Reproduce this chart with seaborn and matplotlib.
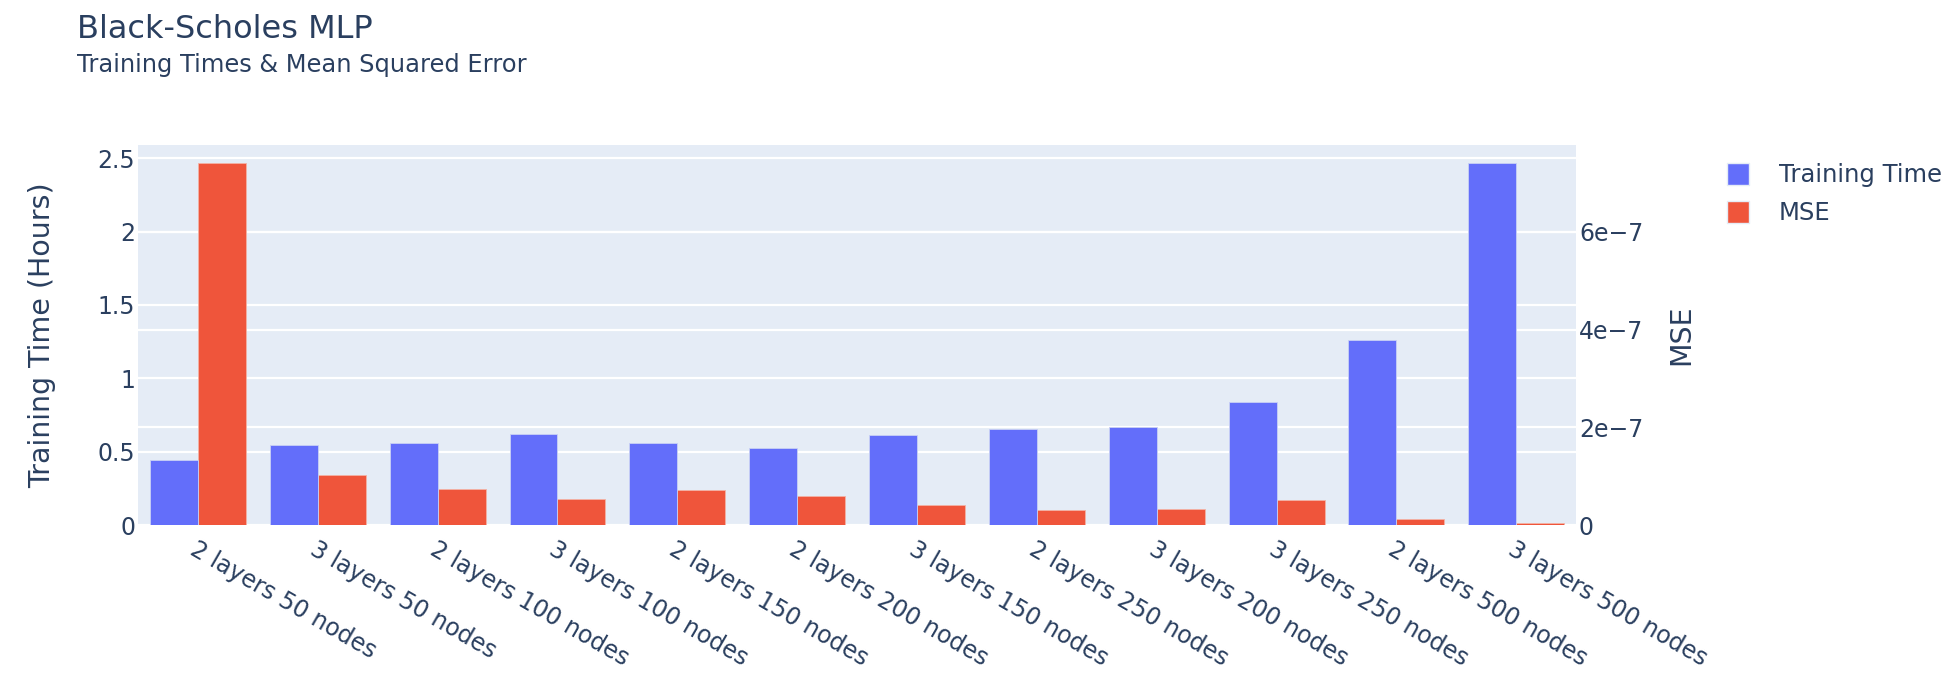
import matplotlib
matplotlib.use("Agg")
import matplotlib.pyplot as plt
from matplotlib.lines import Line2D
from matplotlib.ticker import FuncFormatter, MultipleLocator
import pandas as pd
import seaborn as sns

# values
configs = [
    "2 layers 50 nodes", "3 layers 50 nodes", "2 layers 100 nodes",
    "3 layers 100 nodes", "2 layers 150 nodes", "2 layers 200 nodes",
    "3 layers 150 nodes", "2 layers 250 nodes", "3 layers 200 nodes",
    "3 layers 250 nodes", "2 layers 500 nodes", "3 layers 500 nodes",
]
train_hours = [0.441, 0.545, 0.559, 0.620, 0.559, 0.527,
               0.614, 0.657, 0.666, 0.838, 1.263, 2.466]
mse = [7.41e-7, 1.03e-7, 0.73e-7, 0.54e-7, 0.71e-7, 0.59e-7,
       0.40e-7, 0.31e-7, 0.32e-7, 0.52e-7, 0.12e-7, 0.045e-7]
series = ["Training Time", "MSE"]
colors = {"Training Time": "#636EFA", "MSE": "#EF553B"}

BG = "#E5ECF6"
TXT = "#2a3f5f"

df_time = pd.DataFrame({"config": configs, "series": "Training Time", "value": train_hours})
df_mse = pd.DataFrame({"config": configs, "series": "MSE", "value": mse})

sns.set_theme(style="white")
plt.rcParams["font.family"] = ["DejaVu Sans"]

fig = plt.figure(figsize=(19.58, 6.83), dpi=100)
ax = fig.add_axes([0.0705, 0.2313, 0.7345, 0.5564])
ax2 = ax.twinx()

# MSE axis sits behind so both sets of gridlines stay under the bars
ax.set_zorder(2)
ax2.set_zorder(1)
ax.patch.set_visible(False)
ax2.patch.set_visible(True)
ax2.set_facecolor(BG)

sns.barplot(data=df_time, x="config", y="value", hue="series", hue_order=series,
            order=configs, palette=colors, dodge=True, width=0.8, gap=0,
            saturation=1, edgecolor="#c9d0f5", linewidth=0.6, legend=False, ax=ax)
sns.barplot(data=df_mse, x="config", y="value", hue="series", hue_order=series,
            order=configs, palette=colors, dodge=True, width=0.8, gap=0,
            saturation=1, edgecolor="#f3b3a6", linewidth=0.6, legend=False, ax=ax2)

ax.yaxis.set_major_locator(MultipleLocator(0.5))
ax2.yaxis.set_major_locator(MultipleLocator(2e-7))
ax.yaxis.set_major_formatter(FuncFormatter(lambda v, p: f"{v:g}"))
ax2.yaxis.set_major_formatter(
    FuncFormatter(lambda v, p: "0" if v == 0 else f"{v * 1e7:.0f}e\u22127"))

# gridlines for both axes, drawn on the back axes
ax2.set_axisbelow(True)
ax2.grid(axis="y", color="white", linewidth=1.6)
ax2.hlines([0.5, 1.0, 1.5, 2.0, 2.5], 0, 1, transform=ax.get_yaxis_transform(),
           colors="white", linewidth=1.6, zorder=0.5)
ax.set_xlim(-0.5, len(configs) - 0.5)
ax.set_ylim(0, 2.59)
ax2.set_ylim(0, 7.78e-7)

for a in (ax, ax2):
    for s in a.spines.values():
        s.set_visible(False)
    a.tick_params(length=0, labelsize=17, labelcolor=TXT)
ax.tick_params(axis="y", pad=2)
ax2.tick_params(axis="y", pad=2)
ax.tick_params(axis="x", pad=9)
ax.grid(False)

ax.set_xlabel("")
ax2.set_xlabel("")
ax.set_ylabel("Training Time (Hours)", fontsize=20.5, color=TXT, labelpad=30)
ax2.set_ylabel("MSE", fontsize=20.5, color=TXT, labelpad=17)

for lab in ax.get_xticklabels():
    lab.set_rotation(-30)
    lab.set_ha("left")
    lab.set_va("top")
    lab.set_rotation_mode("anchor")

fig.text(0.0393, 0.945, "Black-Scholes MLP", fontsize=23, color=TXT, va="baseline")
fig.text(0.0393, 0.894, "Training Times & Mean Squared Error", fontsize=17.4,
         color=TXT, va="baseline")

handles = [Line2D([], [], marker="s", linestyle="none", markersize=16.5,
                  markerfacecolor=colors[s], markeredgecolor=BG) for s in series]
fig.legend(handles, series, loc="upper left", bbox_to_anchor=(0.8705, 0.793),
           frameon=False, fontsize=17.5, labelcolor=TXT, handlelength=1.0,
           handletextpad=1.15, labelspacing=0.58)

fig.savefig("out.png", dpi=100)
